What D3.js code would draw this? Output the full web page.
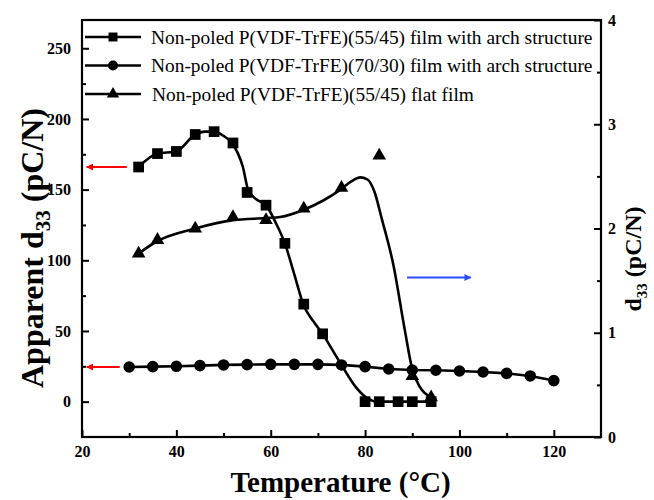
<!DOCTYPE html>
<html>
<head>
<meta charset="utf-8">
<script src="https://cdn.jsdelivr.net/npm/d3@7/dist/d3.min.js"></script>
<style>
  html, body { margin: 0; padding: 0; background: #fff; }
  svg { display: block; font-family: "Liberation Serif", "Times New Roman", serif; }
</style>
</head>
<body>
<div id="chart"></div>
<script>
// Non-poled P(VDF-TrFE)(55/45) film with arch structure (left axis)
const tempSq = [32, 36, 40, 44, 48, 52, 55, 59, 63, 67, 71, 80, 83, 87, 90, 94];
const d33Sq = [166, 175.5, 177, 189, 191, 183, 148, 139, 112, 69, 48, 0, 0, 0, 0, 0];
// fitted curve drawn through the squares
const fitSqT = [32, 36, 40, 44, 46, 48, 50, 51.5, 53, 54.1, 55.2, 57, 59, 61, 63, 65, 67, 69, 71, 73, 75, 78, 80.4, 82.7, 94];
const fitSqV = [166, 175.5, 177, 189, 191, 191, 188, 184, 176, 166, 150, 143, 139, 127, 112, 90, 68, 57, 48, 37, 26, 10.5, 2.6, 0, 0];

// Non-poled P(VDF-TrFE)(70/30) film with arch structure (left axis)
const tempCi = [30, 35, 40, 45, 50, 55, 60, 65, 70, 75, 80, 85, 90, 95, 100, 105, 110, 115, 120];
const d33Ci = [24.5, 24.8, 25, 25.5, 26, 26.2, 26.4, 26.4, 26.4, 26, 24.8, 23.1, 22.4, 22.2, 21.7, 21, 20, 18.2, 14.9];

// Non-poled P(VDF-TrFE)(55/45) flat film (right axis)
const tempTri = [32, 36, 44, 52, 59, 67, 75, 83, 90, 94];
const d33Tri = [1.76, 1.89, 2.0, 2.11, 2.08, 2.19, 2.39, 2.7, 0.585, 0.38];
const fitTriT = [32, 36, 44, 52, 59, 62, 67, 75, 77, 79, 80.5, 82, 83.5, 86, 88.4, 90, 91.6, 94];
const fitTriV = [1.76, 1.88, 2.0, 2.08, 2.1, 2.11, 2.18, 2.38, 2.45, 2.49, 2.47, 2.35, 2.1, 1.65, 1.03, 0.65, 0.48, 0.38];

const legendLabels = [
  "Non-poled P(VDF-TrFE)(55/45) film with arch structure",
  "Non-poled P(VDF-TrFE)(70/30) film with arch structure",
  "Non-poled P(VDF-TrFE)(55/45) flat film"
];
const xTicks = [20, 40, 60, 80, 100, 120];
const yLeftTicks = [0, 50, 100, 150, 200, 250];
const yRightTicks = [0, 1, 2, 3, 4];

const W = 654, H = 500;
const m = { left: 82, top: 20, right: 53, bottom: 63 };
const pw = W - m.left - m.right, ph = H - m.top - m.bottom;
const serif = "'Liberation Serif', 'Times New Roman', serif";

const svg = d3.select("#chart").append("svg")
  .attr("width", W)
  .attr("height", H);
const g = svg.append("g").attr("transform", `translate(${m.left},${m.top})`);

const x = d3.scaleLinear().domain([20, 130]).range([0, pw]);
const yL = d3.scaleLinear().domain([-25, 270]).range([ph, 0]);
const yR = d3.scaleLinear().domain([0, 4]).range([ph, 0]);

// ticks pointing inward, minor ticks without labels
function styleAxis(sel) {
  sel.attr("font-family", serif).attr("font-size", null);
  sel.select(".domain").remove();
  sel.selectAll(".tick line").attr("stroke", "#000").attr("stroke-width", 2);
  sel.selectAll(".tick text")
    .attr("fill", "#000")
    .attr("font-family", serif)
    .style("font-family", serif)
    .style("font-size", "16px")
    .style("font-weight", "bold");
}

const minorX = d3.range(30, 130, 20);
g.append("g").attr("transform", `translate(0,${ph})`)
  .call(d3.axisBottom(x).tickValues(xTicks).tickFormat(d3.format("d")).tickSizeInner(-7).tickSizeOuter(0).tickPadding(9))
  .call(styleAxis);
g.append("g").attr("transform", `translate(0,${ph})`)
  .call(d3.axisBottom(x).tickValues(minorX).tickFormat("").tickSizeInner(-4).tickSizeOuter(0))
  .call(styleAxis);

g.append("g")
  .call(d3.axisLeft(yL).tickValues(yLeftTicks).tickFormat(d3.format("d")).tickSizeInner(-7).tickSizeOuter(0).tickPadding(11))
  .call(styleAxis);
g.append("g")
  .call(d3.axisLeft(yL).tickValues(d3.range(25, 275, 50)).tickFormat("").tickSizeInner(-4).tickSizeOuter(0))
  .call(styleAxis);

g.append("g").attr("transform", `translate(${pw},0)`)
  .call(d3.axisRight(yR).tickValues(yRightTicks).tickFormat(d3.format("d")).tickSizeInner(-7).tickSizeOuter(0).tickPadding(7))
  .call(styleAxis);
g.append("g").attr("transform", `translate(${pw},0)`)
  .call(d3.axisRight(yR).tickValues([0.5, 1.5, 2.5, 3.5]).tickFormat("").tickSizeInner(-4).tickSizeOuter(0))
  .call(styleAxis);

// frame
g.append("rect")
  .attr("width", pw).attr("height", ph)
  .attr("fill", "none").attr("stroke", "#000").attr("stroke-width", 2.2);

// axis titles
svg.append("text")
  .attr("x", m.left + pw / 2 - 1).attr("y", 492)
  .attr("text-anchor", "middle")
  .style("font-size", "29px").style("font-weight", "bold")
  .text("Temperature (°C)");

const tl = svg.append("text")
  .attr("transform", `translate(43,${m.top + 228}) rotate(-90)`)
  .attr("text-anchor", "middle")
  .style("font-size", "32px").style("font-weight", "bold");
tl.append("tspan").text("Apparent d");
tl.append("tspan").attr("dy", 7).style("font-size", "21px").text("33");
tl.append("tspan").attr("dy", -7).text(" (pC/N)");

const tr = svg.append("text")
  .attr("transform", `translate(641,${m.top + 239}) rotate(-90)`)
  .attr("text-anchor", "middle")
  .style("font-size", "24px").style("font-weight", "bold");
tr.append("tspan").text("d");
tr.append("tspan").attr("dy", 6).style("font-size", "15px").text("33");
tr.append("tspan").attr("dy", -6).text(" (pC/N)");

// lines
const lineL = d3.line().x(d => x(d[0])).y(d => yL(d[1]));
const lineR = d3.line().x(d => x(d[0])).y(d => yR(d[1]));

g.append("path")
  .datum(d3.zip(fitSqT, fitSqV))
  .attr("fill", "none").attr("stroke", "#000").attr("stroke-width", 2.6)
  .attr("d", lineL.curve(d3.curveMonotoneX));
g.append("path")
  .datum(d3.zip(tempCi, d33Ci))
  .attr("fill", "none").attr("stroke", "#000").attr("stroke-width", 2.6)
  .attr("d", lineL.curve(d3.curveLinear));
g.append("path")
  .datum(d3.zip(fitTriT, fitTriV))
  .attr("fill", "none").attr("stroke", "#000").attr("stroke-width", 2.6)
  .attr("d", lineR.curve(d3.curveMonotoneX));

// markers
const sq = d3.symbol(d3.symbolSquare, 115);
const ci = d3.symbol(d3.symbolCircle, 105);
const tri = d3.symbol(d3.symbolTriangle, 80);

g.selectAll("path.sq").data(d3.zip(tempSq, d33Sq)).enter().append("path")
  .attr("class", "sq")
  .attr("transform", d => `translate(${x(d[0])},${yL(d[1])})`)
  .attr("d", sq);
g.selectAll("path.ci").data(d3.zip(tempCi, d33Ci)).enter().append("path")
  .attr("class", "ci")
  .attr("transform", d => `translate(${x(d[0])},${yL(d[1])})`)
  .attr("d", ci);
g.selectAll("path.tri").data(d3.zip(tempTri, d33Tri)).enter().append("path")
  .attr("class", "tri")
  .attr("transform", d => `translate(${x(d[0])},${yR(d[1])})`)
  .attr("d", tri);

// arrows pointing at the axis each curve belongs to
const defs = svg.append("defs");
[["red", "#ff0000"], ["blue", "#2a4dff"]].forEach(([id, c]) => {
  defs.append("marker")
    .attr("id", "ah-" + id)
    .attr("viewBox", "0 0 10 10").attr("refX", 9).attr("refY", 5)
    .attr("markerWidth", 14).attr("markerHeight", 7)
    .attr("markerUnits", "userSpaceOnUse")
    .attr("orient", "auto")
    .append("path").attr("d", "M0,0L10,5L0,10Z").attr("fill", c);
});
function arrow(t0, t1, yPix, id, c) {
  g.append("line")
    .attr("x1", x(t0)).attr("x2", x(t1))
    .attr("y1", yPix).attr("y2", yPix)
    .attr("stroke", c).attr("stroke-width", 2)
    .attr("marker-end", `url(#ah-${id})`);
}
arrow(29.5, 21, yL(d33Sq[0]), "red", "#ff0000");
arrow(28, 21, yL(d33Ci[0]), "red", "#ff0000");
arrow(88.9, 102.4, yR(1.53), "blue", "#2a4dff");

// legend
const leg = g.append("g").attr("transform", "translate(3,17)");
const legSym = [d3.symbol(d3.symbolSquare, 80), d3.symbol(d3.symbolCircle, 80), d3.symbol(d3.symbolTriangle, 65)];
legendLabels.forEach((lab, i) => {
  const row = leg.append("g").attr("transform", `translate(0,${i * 28.5})`);
  row.append("line").attr("x1", 0).attr("x2", 56).attr("stroke", "#000").attr("stroke-width", 2.6);
  row.append("path").attr("transform", "translate(28,0)").attr("d", legSym[i]);
  row.append("text")
    .attr("x", i === 2 ? 67 : 66).attr("y", 6.5)
    .style("font-size", "19.4px")
    .text(lab);
});
</script>
</body>
</html>
